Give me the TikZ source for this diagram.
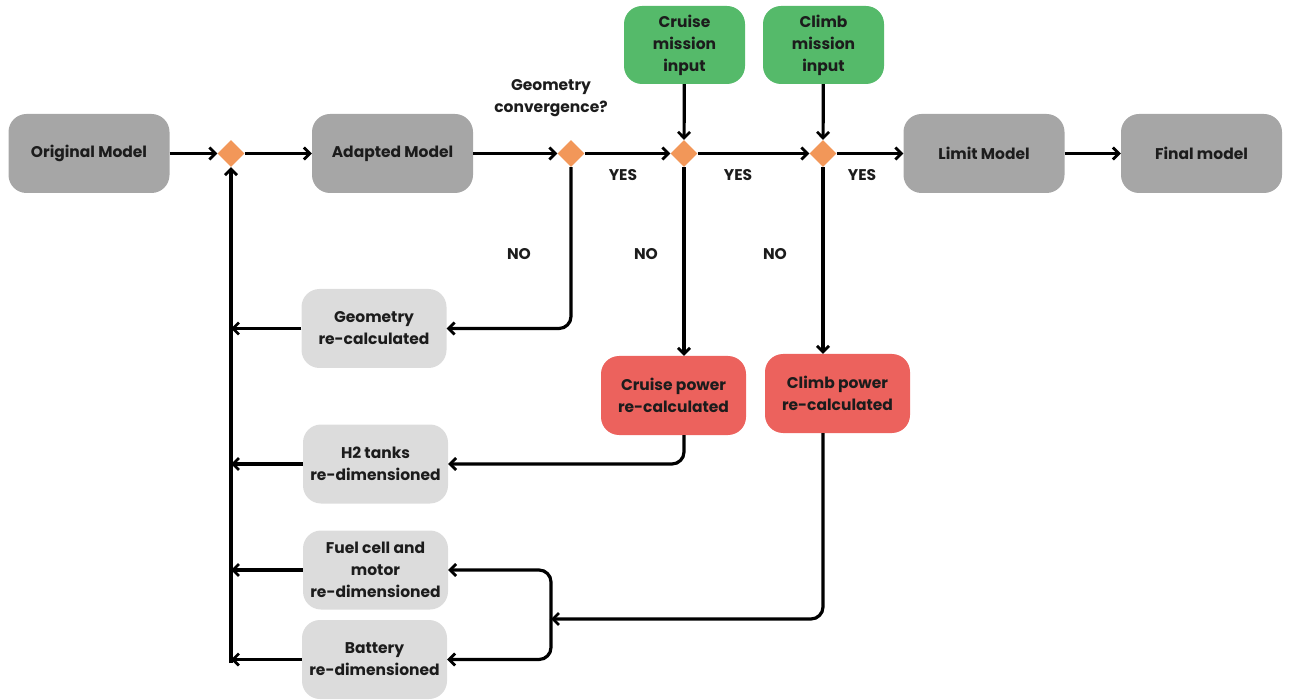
\documentclass[tikz,border=0pt]{standalone}
\usepackage{fontspec}
\setmainfont{Poppins}
\usetikzlibrary{arrows.meta,shapes.geometric}
\definecolor{dgray}{HTML}{A6A6A6}
\definecolor{lgray}{HTML}{DCDCDC}
\definecolor{mgreen}{HTML}{55BA6A}
\definecolor{mred}{HTML}{EC625D}
\definecolor{morange}{HTML}{F29759}
\definecolor{txt}{HTML}{1C1C1C}
\begin{document}
\begin{tikzpicture}[x=1pt,y=-1pt,
  every node/.style={font=\bfseries\fontsize{15.5}{22}\selectfont, text=txt},
  box/.style={rounded corners=18pt, align=center, inner sep=0pt},
  mainbox/.style={box, fill=dgray, minimum width=161pt, minimum height=79pt},
  subbox/.style={box, fill=lgray, minimum width=145pt, minimum height=79pt},
  inbox/.style={box, fill=mgreen, minimum width=121pt, minimum height=78pt},
  pwbox/.style={box, fill=mred, minimum width=145pt, minimum height=79pt},
  dec/.style={diamond, fill=morange, minimum width=27pt, minimum height=27pt, inner sep=0pt},
  lbl/.style={font=\bfseries\fontsize{15.5}{22}\selectfont, align=center},
  arr/.style={line width=3.2pt, draw=black, -{Straight Barb[length=6pt,width=12pt,line width=2.8pt]}},
  ln/.style={line width=3.2pt, draw=black}]
\useasboundingbox (0,0) rectangle (1293,700);

\node[mainbox] (orig) at (89,153.5) {Original Model};
\node[dec] (d1) at (231,153.5) {};
\node[mainbox] (adapt) at (392.5,153.5) {Adapted Model};
\node[dec] (d2) at (571,153.5) {};
\node[lbl] (conv) at (551,98) {Geometry\\convergence?};
\node[dec] (d3) at (684,153.5) {};
\node[dec] (d4) at (823,153.5) {};
\node[mainbox] (limit) at (984,153.5) {Limit Model};
\node[mainbox] (final) at (1201.5,153.5) {Final model};

\node[inbox] (cin) at (684.5,45) {Cruise\\mission\\input};
\node[inbox] (kin) at (823.5,45) {Climb\\mission\\input};

\node[lbl] (y1) at (623,175) {YES};
\node[lbl] (y2) at (738,175) {YES};
\node[lbl] (y3) at (862,175) {YES};
\node[lbl] (n1) at (519,254) {NO};
\node[lbl] (n2) at (646,254) {NO};
\node[lbl] (n3) at (775,254) {NO};

\node[subbox] (geo) at (374,328.5) {Geometry\\re-calculated};
\node[subbox] (h2) at (375.5,464) {H2 tanks\\re-dimensioned};
\node[subbox] (fc) at (375.5,570) {Fuel cell and\\motor\\re-dimensioned};
\node[subbox] (bat) at (374.5,659.5) {Battery\\re-dimensioned};

\node[pwbox] (cp) at (673.5,395.5) {Cruise power\\re-calculated};
\node[pwbox] (kp) at (837.5,393.5) {Climb power\\re-calculated};

\coordinate (fbb) at (231,663);
\coordinate (br) at (551,619);

% main flow
\draw[arr] (orig) -- (d1);
\draw[arr] (d1) -- (adapt);
\draw[arr] (adapt) -- (d2);
\draw[arr] (d2) -- (d3);
\draw[arr] (d3) -- (d4);
\draw[arr] (d4) -- (limit);
\draw[arr] (limit) -- (final);
\draw[arr] (cin) -- (d3);
\draw[arr] (kin) -- (d4);

% feedback column
\draw[arr] (fbb) -- (d1);
\draw[arr] (geo.west) -- (geo.west -| fbb);
\draw[arr] (h2.west) -- (h2.west -| fbb);
\draw[arr] (fc.west) -- (fc.west -| fbb);
\draw[arr] (bat.west) -- (bat.west -| fbb);

% NO branches
\draw[arr, rounded corners=12pt] (d2) |- (geo.east);
\draw[arr] (d3) -- (d3 |- cp.north);
\draw[arr] (d4) -- (d4 |- kp.north);
\draw[arr, rounded corners=12pt] (cp.south -| d3) |- (h2.east);
\draw[arr, rounded corners=12pt] (kp.south -| d4) |- (br);
\draw[arr, rounded corners=12pt] (br) |- (fc.east);
\draw[arr, rounded corners=12pt] (br) |- (bat.east);
\end{tikzpicture}
\end{document}
